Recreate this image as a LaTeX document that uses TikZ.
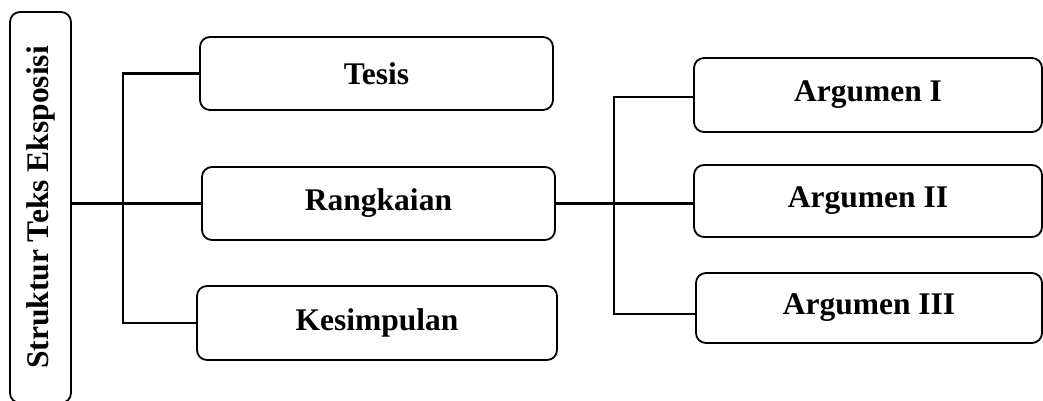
\documentclass[tikz,border=0pt]{standalone}
\usepackage{fontspec}
\setmainfont{Liberation Serif}
\begin{document}
\begin{tikzpicture}[x=1pt,y=-1pt,
  box/.style={draw, line width=1.8pt, rounded corners=10pt, inner sep=0pt,
    font=\bfseries\fontsize{31.5}{36}\selectfont},
  conn/.style={line width=2.2pt}]
\useasboundingbox (0,0) rectangle (1043,400);
\node[box, minimum width=61pt, minimum height=391pt] (main) at (40.5,207.5)
  {\rotatebox{90}{Struktur Teks Eksposisi}};
\node[box, minimum width=353pt, minimum height=73pt] (tesis) at (376.5,73.5) {Tesis};
\node[box, minimum width=353pt, minimum height=73pt] (rang) at (378.5,203.5) {Rangkaian};
\node[box, minimum width=360pt, minimum height=74pt] (kes) at (377,323) {Kesimpulan};
\node[box, minimum width=348pt, minimum height=74pt] (arg1) at (868,95) {Argumen I};
\node[box, minimum width=348pt, minimum height=72pt] (arg2) at (868,201) {Argumen II};
\node[box, minimum width=346pt, minimum height=70pt] (arg3) at (869,308) {Argumen III};
\coordinate (j1) at (123,203.5);
\coordinate (j2) at (614,203.5);
\draw[conn] (main.east |- rang.west) -- (rang.west);
\draw[conn] (tesis.west) -| (j1) |- (kes.west);
\draw[conn] (rang.east) -- (arg2.west |- rang.east);
\draw[conn] ([yshift=-2pt]arg1.west) -| (j2) |- ([yshift=-6pt]arg3.west);
\end{tikzpicture}
\end{document}
